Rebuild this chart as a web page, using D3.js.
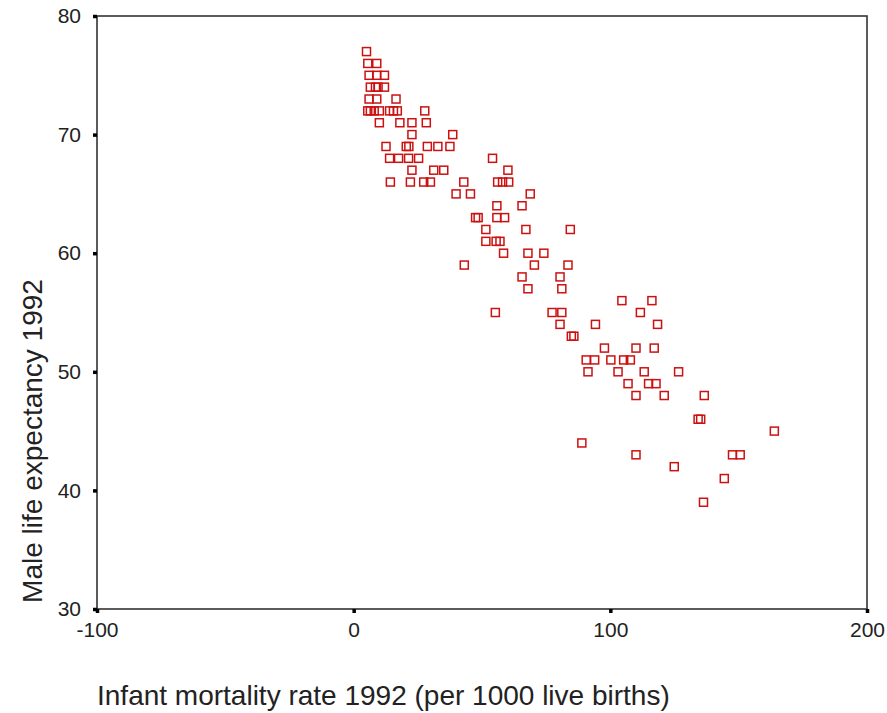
<!DOCTYPE html>
<html>
<head>
<meta charset="utf-8">
<script src="https://cdn.jsdelivr.net/npm/d3@7"></script>
<style>
  html, body { margin: 0; padding: 0; background: #fff; }
  svg text { font-family: "Liberation Sans", Arial, sans-serif; fill: #222; }
</style>
</head>
<body>
<svg id="chart" width="887" height="713"></svg>
<script>
'use strict';

// Infant mortality rate 1992 (per 1000 live births)
const infantMortality = [
    5,
    5.5, 9,
    6, 9, 12,
    6.5, 8.5, 9.5, 12,
    6, 9, 16.5,
    5.5, 6.5, 8, 10, 14, 15.5, 17, 27.7,
    10, 18, 22.7, 28.3,
    22.7, 38.6,
    12.6, 20.5, 21.5, 28.7, 32.8, 37.5,
    14, 17.5, 21.4, 25.3, 54.1,
    22.7, 31.2, 35.1, 60.1,
    14.3, 22.1, 27.3, 29.9, 42.9, 56.1, 58, 60.4,
    39.9, 45.5, 68.8,
    55.8, 65.6,
    47.5, 48.5, 55.8, 58.8,
    51.5, 67.1, 84.4,
    51.5, 55.5, 57,
    58.4, 67.9, 74.1,
    43.1, 70.4, 83.5,
    65.6, 80.4,
    67.9, 81.1,
    104.5, 116.2,
    55.2, 77.3, 81.1, 111.7,
    80.4, 94.2, 118.4,
    84.8, 85.8,
    97.7, 110, 117.1,
    90.6, 93.9, 100.2, 105.2, 107.8,
    91.3, 103, 113.2, 126.6,
    106.9, 114.9, 117.8,
    110, 121, 136.6,
    134.2, 135.2,
    163.9,
    88.9,
    110, 147.6, 150.6,
    124.9,
    144.4,
    136.3
];

// Male life expectancy 1992
const maleLifeExp = [
    77,
    76, 76,
    75, 75, 75,
    74, 74, 74, 74,
    73, 73, 73,
    72, 72, 72, 72, 72, 72, 72, 72,
    71, 71, 71, 71,
    70, 70,
    69, 69, 69, 69, 69, 69,
    68, 68, 68, 68, 68,
    67, 67, 67, 67,
    66, 66, 66, 66, 66, 66, 66, 66,
    65, 65, 65,
    64, 64,
    63, 63, 63, 63,
    62, 62, 62,
    61, 61, 61,
    60, 60, 60,
    59, 59, 59,
    58, 58,
    57, 57,
    56, 56,
    55, 55, 55, 55,
    54, 54, 54,
    53, 53,
    52, 52, 52,
    51, 51, 51, 51, 51,
    50, 50, 50, 50,
    49, 49, 49,
    48, 48, 48,
    46, 46,
    45,
    44,
    43, 43, 43,
    42,
    41,
    39
];

const xTicks = [-100, 0, 100, 200];
const yTicks = [30, 40, 50, 60, 70, 80];

const xTitle = 'Infant mortality rate 1992 (per 1000 live births)';
const yTitle = 'Male life expectancy 1992';

(function() {
    const d3 = window.d3;
    const svg = d3.select('#chart');

    const left = 97, right = 867, top = 16, bottom = 609;

    const x = d3.scaleLinear().domain([-100, 200]).range([left, right]);
    const y = d3.scaleLinear().domain([30, 80]).range([bottom, top]);

    const points = infantMortality.map((v, i) => ({x: v, y: maleLifeExp[i]}));

    // frame
    svg.append('rect')
        .attr('x', left)
        .attr('y', top)
        .attr('width', right - left)
        .attr('height', bottom - top)
        .attr('fill', 'none')
        .attr('stroke', '#333')
        .attr('stroke-width', 1.6);

    // axes (plain hyphen for negatives, like the original)
    const xAxis = svg.append('g')
        .attr('transform', 'translate(0,' + bottom + ')')
        .call(d3.axisBottom(x).tickValues(xTicks).tickFormat(d => String(d))
            .tickSize(4).tickPadding(9));

    const yAxis = svg.append('g')
        .attr('transform', 'translate(' + left + ',0)')
        .call(d3.axisLeft(y).tickValues(yTicks).tickFormat(d => String(d))
            .tickSize(4).tickPadding(12));

    [xAxis, yAxis].forEach(g => {
        g.select('.domain').remove();
        g.selectAll('.tick line').attr('stroke', '#000').attr('stroke-width', 3.5);
        g.selectAll('.tick text')
            .attr('font-size', 21)
            .attr('font-family', '"Liberation Sans", Arial, sans-serif')
            .attr('fill', '#222');
    });

    // points
    const s = 8;
    svg.append('g')
        .selectAll('rect')
        .data(points)
        .enter()
        .append('rect')
        .attr('x', d => x(d.x) - s / 2)
        .attr('y', d => y(d.y) - s / 2)
        .attr('width', s)
        .attr('height', s)
        .attr('fill', 'none')
        .attr('stroke', '#cc1111')
        .attr('stroke-width', 1.5);

    // titles
    svg.append('text')
        .attr('x', 97)
        .attr('y', 705)
        .attr('font-size', 28)
        .text(xTitle);

    svg.append('text')
        .attr('transform', 'translate(42,441) rotate(-90)')
        .attr('text-anchor', 'middle')
        .attr('font-size', 28)
        .text(yTitle);
}());
</script>
</body>
</html>
